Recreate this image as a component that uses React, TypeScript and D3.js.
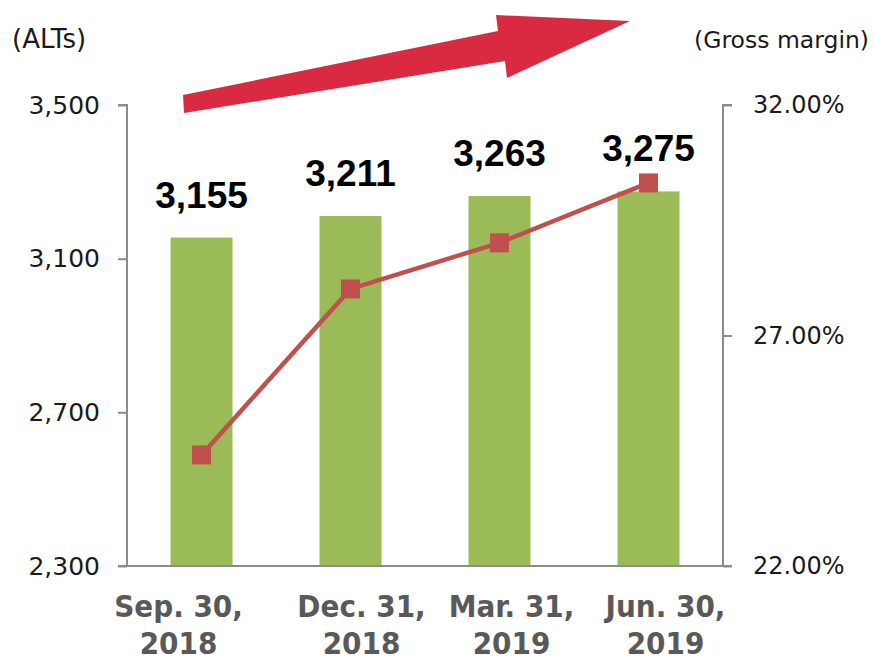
import React, { useEffect, useRef } from 'react';
import * as d3 from 'd3';

const quarters = ['Sep. 30,|2018', 'Dec. 31,|2018', 'Mar. 31,|2019', 'Jun. 30,|2019'];
const alts = [3155, 3211, 3263, 3275];
const grossMargin = [0.2441, 0.2801, 0.2901, 0.3031];
const leftTicks = [2300, 2700, 3100, 3500];
const rightTicks = [0.22, 0.27, 0.32];

// the category labels sit a bit off the band centres in the original
const labelShift = [-23, 11, 12, 17];

export default function App() {
    const ref = useRef<SVGSVGElement | null>(null);

    useEffect(() => {
        const svg = d3.select(ref.current);
        svg.selectAll('*').remove();

        const left = 127, right = 723, top = 105, bottom = 566;

        const x = d3.scaleBand<string>()
            .domain(quarters)
            .range([left, right])
            .paddingInner(0.584)
            .paddingOuter(0.292);
        const yL = d3.scaleLinear().domain([2300, 3500]).range([bottom, top]);
        const yR = d3.scaleLinear().domain([0.22, 0.32]).range([bottom, top]);

        const grey = '#8c8c8c';

        // big trend arrow (decoration)
        svg.append('polygon')
            .attr('points', '183,95 498,31 496,15 630,21 507,78 505,61 184,113')
            .attr('fill', '#d92a42');

        // bars
        svg.selectAll('rect.bar')
            .data(alts)
            .enter()
            .append('rect')
                .attr('class', 'bar')
                .attr('x', (d, i) => x(quarters[i])!)
                .attr('width', x.bandwidth())
                .attr('y', (d) => yL(d))
                .attr('height', (d) => bottom - yL(d))
                .attr('fill', '#9bbb59');

        // axes
        svg.append('g')
            .attr('transform', `translate(${left},0)`)
            .call(d3.axisLeft(yL).tickValues(leftTicks).tickSize(9).tickPadding(18)
                .tickFormat((d) => d3.format(',')(d as number)))
            .call((g) => {
                g.selectAll('path,line').attr('stroke', grey).attr('stroke-width', 2);
                g.select('path').attr('d', `M-9,${top}H0V${bottom}`);
                g.selectAll('text').attr('font-family', 'DejaVu Sans').attr('font-size', 25).attr('fill', '#1a1a1a');
            });

        svg.append('g')
            .attr('transform', `translate(${right},0)`)
            .call(d3.axisRight(yR).tickValues(rightTicks).tickSize(9).tickPadding(21)
                .tickFormat((d) => d3.format('.2%')(d as number)))
            .call((g) => {
                g.selectAll('path,line').attr('stroke', grey).attr('stroke-width', 2);
                g.select('path').attr('d', `M9,${top}H0V${bottom}`);
                g.selectAll('text').attr('font-family', 'DejaVu Sans').attr('font-size', 24).attr('fill', '#1a1a1a');
            });

        svg.append('line')
            .attr('x1', left - 9).attr('x2', right + 9)
            .attr('y1', bottom).attr('y2', bottom)
            .attr('stroke', grey).attr('stroke-width', 2);

        // category labels
        const cat = svg.append('g');
        quarters.forEach((q, i) => {
            const cx = x(q)! + x.bandwidth() / 2 + labelShift[i];
            const t = cat.append('text')
                .attr('text-anchor', 'middle')
                .attr('font-family', 'DejaVu Sans Condensed, DejaVu Sans')
                .attr('font-weight', 'bold')
                .attr('font-size', 31)
                .attr('fill', '#595959');
            q.split('|').forEach((part, j) => {
                t.append('tspan').attr('x', cx).attr('y', 617 + j * 37).text(part);
            });
        });

        // gross margin line
        const line = d3.line<number>()
            .x((d, i) => x(quarters[i])! + x.bandwidth() / 2)
            .y((d) => yR(d));

        svg.append('path')
            .datum(grossMargin)
            .attr('d', line)
            .attr('fill', 'none')
            .attr('stroke', '#c0504d')
            .attr('stroke-width', 4.5);

        svg.selectAll('rect.marker')
            .data(grossMargin)
            .enter()
            .append('rect')
                .attr('class', 'marker')
                .attr('x', (d, i) => x(quarters[i])! + x.bandwidth() / 2 - 9.5)
                .attr('y', (d) => yR(d) - 9.5)
                .attr('width', 19)
                .attr('height', 19)
                .attr('fill', '#c0504d');

        // value labels
        svg.selectAll('text.value')
            .data(alts)
            .enter()
            .append('text')
                .attr('class', 'value')
                .attr('x', (d, i) => x(quarters[i])! + x.bandwidth() / 2)
                .attr('y', (d) => yL(d) - 30)
                .attr('text-anchor', 'middle')
                .attr('font-family', 'Liberation Sans, Arial')
                .attr('font-weight', 'bold')
                .attr('font-size', 37)
                .attr('fill', '#000')
                .text((d) => d3.format(',')(d));

        // axis titles
        svg.append('text')
            .attr('x', 12).attr('y', 48)
            .attr('font-family', 'DejaVu Sans').attr('font-size', 26).attr('fill', '#1a1a1a')
            .text('(ALTs)');
        svg.append('text')
            .attr('x', 869).attr('y', 48).attr('text-anchor', 'end')
            .attr('font-family', 'DejaVu Sans').attr('font-size', 23.5).attr('fill', '#1a1a1a')
            .text('(Gross margin)');
    }, []);

    return (
        <svg ref={ref} width={874} height={662}
            style={{ position: 'absolute', left: 0, top: 0, background: '#fff' }} />
    );
}
